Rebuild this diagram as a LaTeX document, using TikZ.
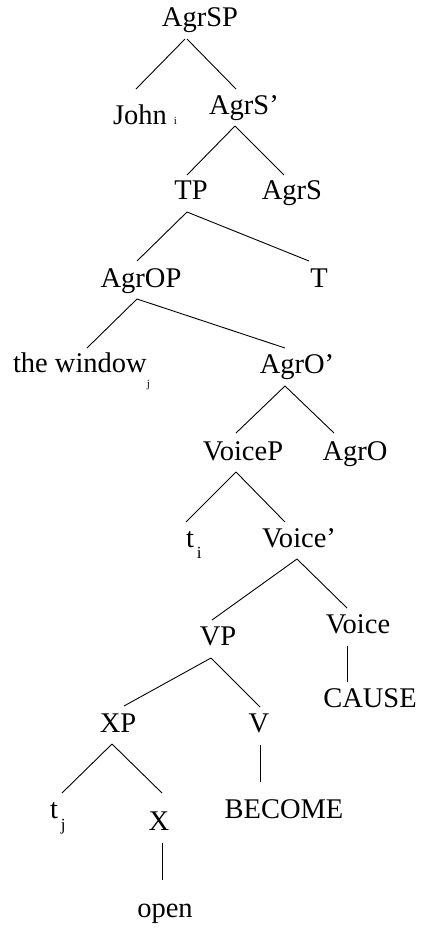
\documentclass[tikz,border=0pt]{standalone}
\usepackage{fontspec}
\setmainfont{Liberation Serif}
\begin{document}
\begin{tikzpicture}[x=1pt,y=-1pt,
  lbl/.style={inner sep=0pt,outer sep=0pt,anchor=base,font=\fontsize{28.5}{30}\selectfont},
  lblw/.style={lbl,anchor=base west},
  edge/.style={draw=black,line width=0.9pt}]
\newcommand{\tinysub}[1]{{\fontsize{11}{11}\selectfont #1}}
\newcommand{\smallsub}[2]{\raisebox{-#1pt}{\fontsize{17}{17}\selectfont #2}}
\fill[white] (0,0) rectangle (420,928);
\useasboundingbox (0,0) rectangle (420,928);
% nodes
\node[lbl]  (AgrSP)  at (200,27)  {AgrSP};
\node[lblw] (John)   at (113,125) {John \tinysub{i}};
\node[lbl]  (AgrSb)  at (244,115) {AgrS'};
\node[lbl]  (TP)     at (191,199) {TP};
\node[lbl]  (AgrS)   at (292,199) {AgrS};
\node[lbl]  (AgrOP)  at (141,287) {AgrOP};
\node[lbl]  (T)      at (319,287) {T};
\node[lblw] (window) at (13,372)  {the window\raisebox{-15pt}{\tinysub{j}}};
\node[lbl]  (AgrOb)  at (297,373) {AgrO'};
\node[lbl]  (VoiceP) at (243,460) {VoiceP};
\node[lbl]  (AgrO)   at (355,460) {AgrO};
\node[lblw] (ti)     at (186,547) {t\hspace{3pt}\smallsub{11}{i}};
\node[lbl]  (Voiceb) at (299,547) {Voice'};
\node[lbl]  (VP)     at (218,645) {VP};
\node[lbl]  (Voice)  at (358,633) {Voice};
\node[lbl]  (CAUSE)  at (370,707) {CAUSE};
\node[lbl]  (XP)     at (118,732) {XP};
\node[lbl]  (V)      at (259,732) {V};
\node[lblw] (tj)     at (50,818)  {t\hspace{3pt}\smallsub{12}{j}};
\node[lbl]  (X)      at (159,830) {X};
\node[lbl]  (BECOME) at (284,818) {BECOME};
\node[lbl]  (open)   at (165,917) {open};
% connectors
\draw[edge] ([shift={(-15,12)}]AgrSP.base) -- ([shift={(23,-36)}]John.base west);
\draw[edge] ([shift={(-13,12)}]AgrSP.base) -- ([shift={(-8,-26)}]AgrSb.base);
\draw[edge] ([shift={(-9,11)}]AgrSb.base) -- ([shift={(-4,-24)}]TP.base);
\draw[edge] ([shift={(-9,11)}]AgrSb.base) -- ([shift={(-8,-24)}]AgrS.base);
\draw[edge] ([shift={(-4,13)}]TP.base) -- ([shift={(-4,-26)}]AgrOP.base);
\draw[edge] ([shift={(-4,13)}]TP.base) -- ([shift={(-10,-26)}]T.base);
\draw[edge] ([shift={(-4,12)}]AgrOP.base) -- ([shift={(74,-24)}]window.base west);
\draw[edge] ([shift={(-4,12)}]AgrOP.base) -- ([shift={(-12,-25)}]AgrOb.base);
\draw[edge] ([shift={(-12,13)}]AgrOb.base) -- ([shift={(-7,-27)}]VoiceP.base);
\draw[edge] ([shift={(-12,13)}]AgrOb.base) -- ([shift={(-21,-27)}]AgrO.base);
\draw[edge] ([shift={(-7,12)}]VoiceP.base) -- ([shift={(0,-25)}]ti.base west);
\draw[edge] ([shift={(-7,12)}]VoiceP.base) -- ([shift={(-14,-25)}]Voiceb.base);
\draw[edge] ([shift={(-2,12)}]Voiceb.base) -- ([shift={(-6,-25)}]VP.base);
\draw[edge] ([shift={(-2,12)}]Voiceb.base) -- ([shift={(-11,-25)}]Voice.base);
\draw[edge] ([shift={(-7,13)}]VP.base) -- ([shift={(6,-26)}]XP.base);
\draw[edge] ([shift={(-7,13)}]VP.base) -- ([shift={(1,-25)}]V.base);
\draw[edge] ([shift={(-11,13)}]Voice.base) -- ([shift={(-23,-25)}]CAUSE.base);
\draw[edge] ([shift={(-6,12)}]XP.base) -- ([shift={(12,-25)}]tj.base west);
\draw[edge] ([shift={(-6,12)}]XP.base) -- ([shift={(3,-37)}]X.base);
\draw[edge] ([shift={(1,13)}]V.base) -- ([shift={(-24,-36)}]BECOME.base);
\draw[edge] ([shift={(3,13)}]X.base) -- ([shift={(-3,-37)}]open.base);
\end{tikzpicture}
\end{document}
